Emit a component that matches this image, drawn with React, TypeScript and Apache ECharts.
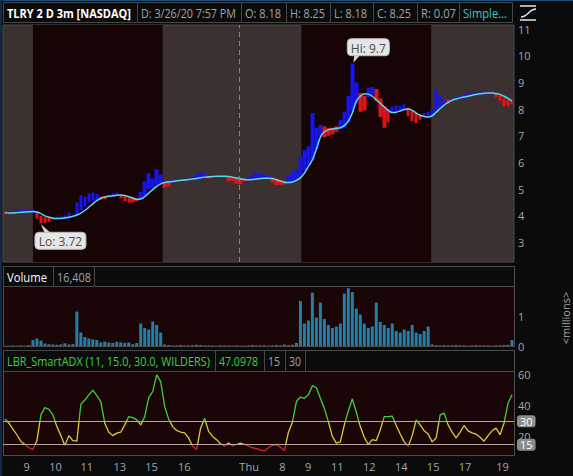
import React, { useEffect, useRef } from "react";
import * as echarts from "echarts";

// TLRY, 2 days of 3-minute bars (extended hours), one entry per bar slot
const priceHigh = [
  4.16, 4.18, 4.19, 4.2, 4.22, 4.22, 4.24, 4.22,
  4.15, 4.0, 3.95, 3.93, 3.95, 3.97, 3.98, 4.02,
  4.12, 4.05, 4.5, 4.78, 4.72, 4.85, 4.87, 4.82,
  4.72, 4.75, 4.8, 4.85, 4.87, 4.8, 4.75, 4.72,
  4.7, 4.65, 4.9, 5.3, 5.6, 5.4, 5.75, 5.55,
  5.25, 5.3, 5.33, 5.38, 5.35, 5.38, 5.4, 5.45,
  5.55, 5.62, 5.6, 5.5, 5.52, 5.5, 5.5, 5.5,
  5.46, 5.45, 5.4, 5.38, 5.38, 5.42, 5.55, 5.62,
  5.58, 5.55, 5.5, 5.42, 5.4, 5.35, 5.3, 5.5,
  5.66, 5.7, 6.2, 6.47, 6.6, 7.85, 7.3, 7.4,
  7.35, 7.3, 7.3, 7.35, 7.6, 7.9, 8.5, 9.7,
  9.0, 8.6, 8.5, 8.8, 8.83, 8.75, 8.4, 8.1,
  8.0, 8.1, 8.15, 8.12, 8.18, 8.05, 7.95, 7.85,
  7.8, 7.85, 7.9, 8.0, 8.72, 8.5, 8.35, 8.35,
  8.4, 8.45, 8.5, 8.55, 8.58, 8.62, 8.62, 8.63,
  8.63, 8.62, 8.6, 8.6, 8.55, 8.4, 8.35, 8.3,
];
const priceLow = [
  4.06, 4.08, 4.1, 4.12, 4.13, 4.14, 4.15, 4.12,
  3.9, 3.72, 3.74, 3.78, 3.85, 3.88, 3.88, 3.9,
  3.95, 3.97, 4.0, 4.2, 4.35, 4.5, 4.55, 4.6,
  4.6, 4.62, 4.7, 4.73, 4.75, 4.65, 4.55, 4.5,
  4.5, 4.55, 4.6, 4.75, 5.0, 5.05, 5.15, 5.2,
  5.05, 5.1, 5.25, 5.28, 5.3, 5.32, 5.33, 5.35,
  5.38, 5.4, 5.42, 5.4, 5.45, 5.46, 5.46, 5.45,
  5.3, 5.3, 5.2, 5.18, 5.3, 5.33, 5.35, 5.4,
  5.4, 5.42, 5.4, 5.25, 5.15, 5.15, 5.18, 5.25,
  5.3, 5.35, 5.5, 5.7, 5.9, 6.1, 6.5, 7.0,
  6.95, 7.0, 7.05, 7.15, 7.25, 7.3, 7.5, 7.9,
  8.2, 7.9, 7.95, 8.45, 8.5, 8.3, 7.7, 7.3,
  7.5, 7.85, 7.9, 7.95, 7.95, 7.75, 7.55, 7.48,
  7.6, 7.7, 7.72, 7.75, 7.9, 8.0, 8.1, 8.2,
  8.3, 8.35, 8.38, 8.4, 8.45, 8.5, 8.52, 8.55,
  8.55, 8.56, 8.55, 8.45, 8.3, 8.1, 8.1, 8.18,
];
const smaLine = [
  4.12, 4.11, 4.11, 4.12, 4.13, 4.14, 4.15, 4.16,
  4.14, 4.08, 4.0, 3.95, 3.91, 3.9, 3.9, 3.92,
  3.95, 3.98, 4.03, 4.1, 4.2, 4.32, 4.45, 4.57,
  4.66, 4.7, 4.73, 4.75, 4.77, 4.78, 4.76, 4.72,
  4.67, 4.62, 4.63, 4.72, 4.85, 4.98, 5.1, 5.2,
  5.25, 5.27, 5.29, 5.31, 5.33, 5.34, 5.36, 5.38,
  5.4, 5.43, 5.45, 5.46, 5.47, 5.48, 5.48, 5.48,
  5.47, 5.45, 5.42, 5.39, 5.36, 5.35, 5.36, 5.38,
  5.4, 5.41, 5.41, 5.4, 5.35, 5.3, 5.26, 5.25,
  5.27, 5.33, 5.42, 5.6, 5.85, 6.1, 6.5, 6.95,
  7.15, 7.22, 7.25, 7.28, 7.3, 7.38, 7.55, 7.85,
  8.3, 8.48, 8.57, 8.56, 8.48, 8.35, 8.22, 8.08,
  7.95, 7.87, 7.88, 7.93, 7.98, 8.0, 7.95, 7.85,
  7.77, 7.72, 7.7, 7.75, 7.88, 8.02, 8.15, 8.25,
  8.33, 8.38, 8.42, 8.45, 8.48, 8.52, 8.55, 8.57,
  8.59, 8.6, 8.6, 8.58, 8.55, 8.48, 8.4, 8.3,
];
// U = bar painted above the average (blue), D = below (red)
const barTrend = (
  "DUUUUUUUDDDDUUUUUUUUUUUUDDUUUDDDDDUUUUUUDDUUUDUUUUUDUUUUDDDDDUUUUUU" +
  "DDDDUUUUUUUUUDDDDUUUUUDDUUDDDDUUUUDDDDUUUUUUDUUUUUUUUUUUDDDDD"
).split("");
const volumeM = [
  0.01, 0.01, 0.02, 0.01, 0.02, 0.01, 0.03, 0.2,
  0.25, 0.18, 0.08, 0.06, 0.05, 0.04, 0.05, 0.09,
  0.05, 0.06, 1.15, 0.45, 0.3, 0.25, 0.22, 0.2,
  0.12, 0.15, 0.12, 0.1, 0.14, 0.12, 0.1, 0.12,
  0.06, 0.1, 0.75, 0.6, 0.55, 0.82, 0.7, 0.45,
  0.05, 0.03, 0.02, 0.02, 0.03, 0.02, 0.02, 0.03,
  0.04, 0.03, 0.02, 0.02, 0.02, 0.01, 0.02, 0.02,
  0.02, 0.01, 0.02, 0.01, 0.01, 0.02, 0.03, 0.02,
  0.02, 0.02, 0.01, 0.02, 0.03, 0.02, 0.05, 0.03,
  0.04, 0.1, 1.5, 0.75, 0.85, 1.78, 0.95, 1.45,
  0.9, 0.7, 0.6, 0.65, 0.75, 1.75, 1.93, 1.8,
  1.25, 1.05, 0.75, 0.6, 0.65, 1.45, 0.8, 0.7,
  0.6, 0.75, 0.5, 0.45, 0.55, 0.5, 0.7, 0.45,
  0.4, 0.5, 0.65, 0.05, 0.03, 0.02, 0.03, 0.02,
  0.02, 0.03, 0.02, 0.02, 0.01, 0.02, 0.03, 0.02,
  0.02, 0.02, 0.01, 0.02, 0.02, 0.03, 0.04, 0.2,
];
const adxValues = [
  31.5, 28.8, 24.9, 21.2, 17.0, 15.1, 13.0, 11.9,
  17.6, 34.1, 38.8, 37.7, 34.1, 26.6, 20.8, 14.4,
  20.8, 17.6, 17.2, 41.0, 43.7, 47.0, 50.1, 46.5,
  42.7, 28.8, 23.0, 20.8, 22.4, 23.0, 27.7, 33.0,
  32.4, 30.9, 27.7, 33.0, 45.2, 49.1, 59.8, 55.5,
  39.4, 31.5, 26.6, 24.1, 23.0, 22.6, 19.3, 14.0,
  11.9, 25.6, 32.0, 23.5, 20.3, 18.2, 15.5, 14.0,
  16.0, 14.2, 15.1, 16.0, 15.1, 14.0, 13.0, 12.5,
  11.7, 10.9, 13.0, 14.6, 15.1, 13.4, 11.3, 23.0,
  29.4, 42.7, 45.6, 44.8, 47.0, 52.9, 51.6, 44.8,
  38.3, 29.8, 20.3, 16.0, 16.8, 27.7, 36.6, 44.4,
  35.8, 26.6, 19.7, 15.1, 18.2, 17.6, 24.6, 33.0,
  33.0, 33.4, 27.3, 21.8, 16.8, 14.0, 20.8, 30.9,
  27.7, 23.9, 21.8, 16.8, 19.3, 34.1, 35.2, 27.7,
  23.0, 19.3, 23.0, 27.3, 23.9, 22.6, 21.8, 19.7,
  17.2, 20.8, 23.9, 25.6, 21.4, 28.8, 41.6, 47.1,
];

const timeTickBars = [5.43, 12.65, 20.5, 28.75, 36.68, 44.9, 61.15, 69.5, 75.95, 83.25, 91.25, 99.25, 107.25, 115.25, 124.65];
const timeTickLabels = ["9", "10", "11", "13", "15", "16", "Thu", "8", "9", "11", "12", "14", "15", "17", "19"];
const priceTicks = [3, 4, 5, 6, 7, 8, 9, 10, 11];
const volumeTicks = [0, 1];
const adxTicks = [20, 40, 60];
const adxLevels = [30, 15];
const regularSessions = [[7, 39.5], [74.25, 106.75]];
const daySplitBar = 58.75;
const lastPrice = 8.25;
const lastAdx = 47.0979;

// header cells: text, cell span and the width the text is fitted to
const headerCells = [
  { text: "TLRY 2 D 3m [NASDAQ]", from: 3, to: 137, fit: 124, color: "#ffffff", bold: true },
  { text: "D: 3/26/20 7:57 PM", from: 137, to: 241, fit: 95, color: "#a3a3a3" },
  { text: "O: 8.18", from: 241, to: 286, fit: 36, color: "#a3a3a3" },
  { text: "H: 8.25", from: 286, to: 330, fit: 35, color: "#a3a3a3" },
  { text: "L: 8.18", from: 330, to: 373, fit: 33, color: "#a3a3a3" },
  { text: "C: 8.25", from: 373, to: 417, fit: 34, color: "#a3a3a3" },
  { text: "R: 0.07", from: 417, to: 459, fit: 35, color: "#a3a3a3" },
  { text: "Simple...", from: 459, to: 512, fit: 44, color: "#3cc6c8" },
];
const volumeCells = [
  { text: "Volume", from: 3, to: 53, fit: 40, color: "#ffffff" },
  { text: "16,408", from: 53, to: 94, fit: 34, color: "#a3a3a3" },
];
const adxCells = [
  { text: "LBR_SmartADX (11, 15.0, 30.0, WILDERS)", from: 3, to: 215, fit: 203, color: "#3fd03f" },
  { text: "47.0978", from: 215, to: 264, fit: 39, color: "#3fd03f" },
  { text: "15", from: 264, to: 285, fit: 12, color: "#a3a3a3" },
  { text: "30", from: 285, to: 305, fit: 12, color: "#a3a3a3" },
];

const FONT = "'Open Sans', 'Noto Sans', sans-serif";
const AXIS_GRAY = "#a6a6a6";
const PLOT_L = 3;
const PLOT_W = 511;

let measureCtx: CanvasRenderingContext2D | null = null;
function textWidth(text: string, font: string) {
  if (!measureCtx) measureCtx = document.createElement("canvas").getContext("2d");
  if (!measureCtx) return text.length * 6;
  measureCtx.font = font;
  return measureCtx.measureText(text).width;
}

function cellRow(cells: any[], top: number, height: number, fontSize: number) {
  const out: any[] = [];
  cells.forEach((c) => {
    const font = `${c.bold ? "bold " : ""}${fontSize}px ${FONT}`;
    const w = textWidth(c.text, font);
    out.push({
      type: "rect",
      silent: true,
      shape: { x: c.from + 0.5, y: top + 0.5, width: c.to - c.from, height },
      style: { fill: "#0b0b0b", stroke: "#474747", lineWidth: 1 },
    });
    out.push({
      type: "text",
      silent: true,
      x: c.from + 4,
      y: top + height / 2 + 1,
      scaleX: w > 0 ? c.fit / w : 1,
      style: { text: c.text, fill: c.color, font, verticalAlign: "middle", align: "left" },
    });
  });
  return out;
}

function staticGraphics() {
  const g: any[] = [];
  g.push({ type: "rect", silent: true, shape: { x: 0, y: 0, width: 573, height: 1 }, style: { fill: "#1c4f7c" } });
  g.push({ type: "rect", silent: true, shape: { x: 0, y: 0, width: 2, height: 476 }, style: { fill: "#0f2a48" } });
  g.push(...cellRow(headerCells, 2, 20, 12));
  // volume panel frame + header
  g.push({ type: "rect", silent: true, shape: { x: PLOT_L + 0.5, y: 266.5, width: PLOT_W, height: 80 }, style: { fill: "none", stroke: "#4c4c4c", lineWidth: 1 } });
  g.push({ type: "rect", silent: true, shape: { x: PLOT_L + 0.5, y: 266.5, width: PLOT_W, height: 20 }, style: { fill: "#0b0b0b", stroke: "#4c4c4c", lineWidth: 1 } });
  g.push(...cellRow(volumeCells, 266, 20, 12));
  // ADX panel frame + header
  g.push({ type: "rect", silent: true, shape: { x: PLOT_L + 0.5, y: 350.5, width: PLOT_W, height: 105 }, style: { fill: "none", stroke: "#4c4c4c", lineWidth: 1 } });
  g.push({ type: "rect", silent: true, shape: { x: PLOT_L + 0.5, y: 350.5, width: PLOT_W, height: 21 }, style: { fill: "#0b0b0b", stroke: "#4c4c4c", lineWidth: 1 } });
  g.push(...cellRow(adxCells, 350, 21, 12));
  g.push({
    type: "text",
    silent: true,
    x: 565,
    y: 318,
    rotation: Math.PI / 2,
    style: { text: "<millions>", fill: AXIS_GRAY, font: `11px ${FONT}`, align: "center", verticalAlign: "middle" },
  });
  // study icon, top right
  const icon = { stroke: "#e8e8e8", lineWidth: 1.5, fill: "none" };
  g.push({ type: "line", silent: true, shape: { x1: 520, y1: 6, x2: 536, y2: 6 }, style: icon });
  g.push({ type: "line", silent: true, shape: { x1: 520, y1: 20, x2: 536, y2: 20 }, style: icon });
  g.push({
    type: "bezierCurve",
    silent: true,
    shape: { x1: 521, y1: 17, cpx1: 528, cpy1: 17, cpx2: 529, cpy2: 9, x2: 536, y2: 9 },
    style: icon,
  });
  return g;
}

function callout(text: string, tip: number[], above: boolean, w: number) {
  const h = 17;
  const bx = tip[0] - (above ? 5 : 6);
  const by = above ? tip[1] - 25 : tip[1] + 9;
  const pointer = above
    ? [[tip[0] + 2, by + h - 1], [tip[0] + 8, by + h - 1], [tip[0] + 1, tip[1] - 1]]
    : [[tip[0] + 4, by + 1], [tip[0] + 10, by + 1], [tip[0], tip[1] + 1]];
  return [
    { type: "polygon", silent: true, z: 20, shape: { points: pointer }, style: { fill: "#d9d9d9" } },
    {
      type: "rect",
      silent: true,
      z: 20,
      shape: { x: bx, y: by, width: w, height: h, r: 4 },
      style: { fill: "#e6e6e6", stroke: "#bdbdbd", lineWidth: 1 },
    },
    {
      type: "text",
      silent: true,
      z: 21,
      x: bx + w / 2,
      y: by + h / 2 + 1,
      style: { text, fill: "#4a4a4a", font: `12px ${FONT}`, align: "center", verticalAlign: "middle" },
    },
  ];
}

function boxLabel(text: string, bg: string, fg: string) {
  return {
    show: true,
    position: "end",
    distance: 3,
    formatter: () => text,
    backgroundColor: bg,
    color: fg,
    fontSize: 11,
    fontFamily: FONT,
    padding: [1, 3, 0, 3],
    borderRadius: 3,
  };
}

function buildOption() {
  const candles = priceHigh.map((hi, i) => {
    const lo = priceLow[i];
    const c = barTrend[i] === "U" ? "#1414f5" : "#e3121a";
    return { value: [i, lo, hi, lo, hi], itemStyle: { color: c, borderColor: c, borderWidth: 0 } };
  });
  const xBase = { type: "value", min: -0.5, max: 127.5 };
  const yLabel = { color: AXIS_GRAY, fontSize: 11, fontFamily: FONT, margin: 4 };
  const hidden = { axisLine: { show: false }, axisTick: { show: false }, splitLine: { show: false } };
  return {
    animation: false,
    backgroundColor: "#0b0b0b",
    textStyle: { fontFamily: FONT },
    grid: [
      { left: PLOT_L, top: 25, width: PLOT_W, height: 237, show: true, backgroundColor: "#3b3131", borderColor: "#4e4e4e", borderWidth: 1 },
      { left: PLOT_L, top: 287, width: PLOT_W, height: 59, show: true, backgroundColor: "#1a0606", borderWidth: 0 },
      { left: PLOT_L, top: 372, width: PLOT_W, height: 84, show: true, backgroundColor: "#1a0606", borderWidth: 0 },
    ],
    xAxis: [
      { ...xBase, gridIndex: 0, show: false },
      { ...xBase, gridIndex: 1, show: false },
      {
        ...xBase,
        gridIndex: 2,
        ...hidden,
        axisLabel: {
          customValues: timeTickBars,
          color: AXIS_GRAY,
          fontSize: 11,
          fontFamily: FONT,
          margin: 5,
          formatter: (v: number) => {
            const k = timeTickBars.findIndex((t) => Math.abs(t - v) < 1e-6);
            return k >= 0 ? timeTickLabels[k] : "";
          },
        },
      },
    ],
    yAxis: [
      { type: "value", gridIndex: 0, position: "right", min: 2.27, max: 11.15, ...hidden, axisLabel: { ...yLabel, customValues: priceTicks } },
      { type: "value", gridIndex: 1, position: "right", min: 0, max: 1.97, ...hidden, axisLabel: { ...yLabel, customValues: volumeTicks } },
      { type: "value", gridIndex: 2, position: "right", min: 7.7, max: 61.7, ...hidden, axisLabel: { ...yLabel, customValues: adxTicks } },
    ],
    visualMap: [
      {
        type: "piecewise",
        show: false,
        seriesIndex: 4,
        dimension: 1,
        pieces: [
          { lt: 15, color: "#d8231f" },
          { gte: 15, lt: 30, color: "#dccb35" },
          { gte: 30, color: "#3fcf3a" },
        ],
      },
    ],
    series: [
      {
        // session shading and day separator
        type: "line",
        xAxisIndex: 0,
        yAxisIndex: 0,
        z: 1,
        silent: true,
        showSymbol: false,
        lineStyle: { opacity: 0 },
        data: smaLine.map((v, i) => [i, v]),
        markArea: {
          silent: true,
          itemStyle: { color: "#170505" },
          data: regularSessions.map((s) => [{ xAxis: s[0] }, { xAxis: s[1] }]),
        },
        markLine: {
          silent: true,
          symbol: "none",
          label: { show: false },
          lineStyle: { color: "#8c8282", type: [5, 4], width: 1 },
          data: [{ xAxis: daySplitBar }],
        },
      },
      {
        type: "candlestick",
        xAxisIndex: 0,
        yAxisIndex: 0,
        z: 3,
        silent: true,
        barWidth: 4,
        encode: { x: 0, y: [1, 2, 3, 4] },
        data: candles,
        markLine: {
          silent: true,
          symbol: "none",
          lineStyle: { opacity: 0 },
          data: [{ yAxis: lastPrice, label: boxLabel(lastPrice.toFixed(2), "#e3151a", "#ffffff") }],
        },
      },
      {
        type: "line",
        xAxisIndex: 0,
        yAxisIndex: 0,
        z: 4,
        silent: true,
        showSymbol: false,
        smooth: 0.3,
        lineStyle: { color: "#5fd9e6", width: 1.5 },
        data: smaLine.map((v, i) => [i, v]),
      },
      {
        type: "bar",
        xAxisIndex: 1,
        yAxisIndex: 1,
        silent: true,
        barWidth: 3,
        itemStyle: { color: "#247fa8" },
        data: volumeM.map((v, i) => [i, v]),
      },
      {
        type: "line",
        xAxisIndex: 2,
        yAxisIndex: 2,
        z: 4,
        silent: true,
        showSymbol: false,
        lineStyle: { width: 1.3 },
        data: adxValues.map((v, i) => [i, v]),
        markLine: {
          silent: true,
          symbol: "none",
          data: [
            ...adxLevels.map((lv) => ({
              yAxis: lv,
              lineStyle: { color: "#b3a6a6", width: 1, type: "solid" },
              label: boxLabel(String(lv), "#8b8b8b", "#ffffff"),
            })),
            {
              yAxis: lastAdx,
              lineStyle: { opacity: 0 },
              label: boxLabel(lastAdx.toFixed(4), "#1fe81f", "#0b4a0b"),
            },
          ],
        },
      },
    ],
  };
}

export default function App() {
  const ref = useRef<HTMLDivElement>(null);
  useEffect(() => {
    if (!ref.current) return;
    const chart = echarts.init(ref.current, null, { renderer: "svg" });
    chart.setOption(buildOption() as any);

    const hiVal = Math.max(...priceHigh);
    const loVal = Math.min(...priceLow);
    const hiIdx = priceHigh.indexOf(hiVal);
    const loIdx = priceLow.indexOf(loVal);
    const finder = { xAxisIndex: 0, yAxisIndex: 0 };
    const hiPt = chart.convertToPixel(finder, [hiIdx, hiVal]) as number[];
    const loPt = chart.convertToPixel(finder, [loIdx, loVal]) as number[];

    chart.setOption({
      graphic: [
        ...staticGraphics(),
        ...callout(`Hi: ${hiVal}`, hiPt, true, 42),
        ...callout(`Lo: ${loVal.toFixed(2)}`, loPt, false, 51),
      ],
    });
    return () => chart.dispose();
  }, []);
  return (
    <div
      ref={ref}
      style={{ position: "fixed", left: 0, top: 0, width: 573, height: 476, background: "#0b0b0b" }}
    />
  );
}
